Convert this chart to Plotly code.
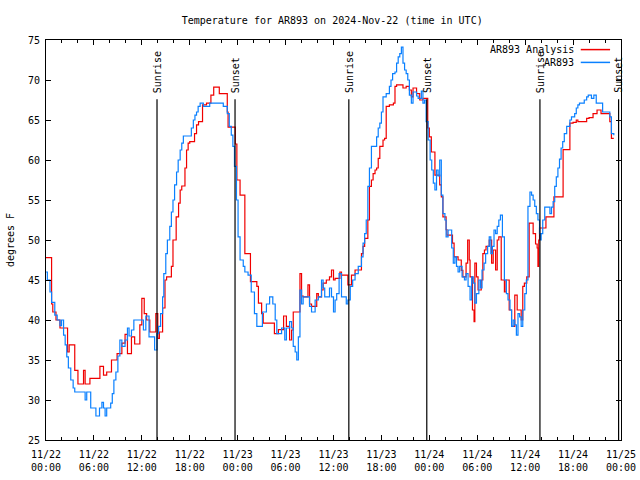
import pandas as pd
import plotly.graph_objects as go

# ---------------- data (hours after 2024-11-22 00:00 UTC, degrees F) ----------------
analysis_hours = [0.0, 0.7, 0.85, 1.25, 1.75, 2.7, 2.9, 3.6, 4.0, 4.7, 4.9, 5.5, 6.75, 7.2, 7.6, 8.2, 8.9,
                  9.5, 9.9, 10.2, 10.7, 11.1, 11.75, 12.0, 12.3, 12.6, 13.0, 13.75, 14.0, 14.2, 14.6, 14.9,
                  15.1, 15.7, 15.9, 16.3, 16.6, 16.8, 17.0, 17.4, 17.6, 17.8, 18.0, 18.6, 18.85, 19.1, 19.6,
                  20.1, 20.65, 21.0, 21.7, 22.7, 22.8, 23.7, 23.9, 24.3, 24.9, 25.6, 26.4, 26.6, 27.0, 27.2,
                  28.6, 29.1, 29.75, 30.1, 30.5, 30.75, 30.96, 31.8, 32.0, 32.2, 32.8, 33.0, 33.25, 33.9,
                  34.1, 34.5, 34.7, 35.1, 35.5, 35.75, 36.0, 36.2, 36.8, 37.0, 37.8, 38.25, 38.7, 39.5, 39.7,
                  39.9, 40.3, 40.5, 40.75, 40.96, 41.2, 41.4, 41.6, 41.8, 42.2, 42.4, 42.6, 43.0, 43.5, 43.7,
                  43.9, 44.7, 45.1, 45.5, 45.75, 45.96, 46.4, 46.8, 47.2, 47.8, 48.0, 48.25, 48.7, 49.3, 49.5,
                  49.7, 50.1, 50.2, 50.9, 51.1, 51.6, 52.0, 52.2, 52.6, 52.8, 53.0, 53.1, 53.4, 53.6, 53.7,
                  53.9, 54.1, 54.5, 54.7, 54.9, 55.1, 55.5, 55.8, 56.0, 56.3, 56.5, 56.7, 57.0, 57.4, 57.6,
                  58.0, 58.3, 58.7, 59.0, 59.5, 59.7, 59.9, 60.2, 60.5, 61.0, 61.3, 61.5, 61.6, 61.7, 61.8,
                  62.6, 63.6, 64.75, 65.6, 66.0, 66.4, 66.6, 67.7, 68.0, 68.5, 69.0, 69.5, 70.6, 70.8, 71.1]
analysis_temps = [47.8, 42, 41, 40, 39, 36, 36.9, 33.7, 32, 33.7, 32, 32.7, 34.2, 33.1, 33.5, 35, 35.8,
                  37.1, 38.2, 35.8, 37.9, 37, 39.4, 42.7, 40.8, 40, 38.5, 40.8, 37.7, 38.5, 41.5, 45,
                  45.4, 46.7, 50, 52.9, 54.6, 56.25, 56.75, 59, 61.25, 62.1, 62.3, 63.3, 64.4, 64.8, 66.9,
                  67.1, 68.1, 69.1, 68.3, 66, 64.1, 62, 57.5, 55.6, 48.3, 44.8, 44.2, 42.1, 40.8, 39.6,
                  38.3, 38.8, 40.5, 39.2, 37.5, 38.75, 41, 45.8, 43, 42.9, 44.4, 42, 41.7, 43.3,
                  42.9, 43.75, 44.6, 45, 45.4, 46.25, 45, 45.2, 46, 45.6, 44.4, 45.6, 46.25, 48.3, 49.2,
                  50.2, 52.5, 56.7, 57.5, 58.3, 58.75, 59, 60.2, 61.7, 62.5, 62.7, 66.7, 66.9, 67.1, 69.2,
                  69.4, 69, 69.2, 68.75, 67.9, 69, 68.3, 67.5, 67.7, 64, 62.9, 61, 58.1, 56.9, 55.4,
                  52.9, 51.3, 50.6, 49.6, 47.9, 47.5, 46.2, 45.4, 47.1, 50, 47.5, 45.4, 41.25, 39.8, 47.1,
                  45.4, 43.75, 45, 48.3, 48.75, 49.2, 50, 47.1, 48.75, 46.25, 50, 50.4, 45, 43.5, 45,
                  41.25, 39.2, 43.1, 41.25, 40, 44.2, 44.6, 45.4, 52.1, 50.8, 49.5, 49, 46.7, 50, 51.5,
                  52.9, 55.4, 61.3, 64.6, 64.7, 65, 64.8, 65.2, 65.3, 65.8, 66.25, 65.8, 64.8, 62.7, 62.7]

obs_hours = [0.0, 0.17, 0.5, 0.7, 1.1, 1.4, 1.75, 1.95, 2.2, 2.4, 2.6, 2.8, 3.1, 3.4, 3.6, 4.9, 5.1, 5.6,
             6.25, 6.7, 7.0, 7.2, 7.4, 7.6, 8.1, 8.3, 8.5, 8.75, 9.0, 9.25, 9.5, 9.9, 10.2, 10.4, 10.7,
             11.0, 12.2, 12.5, 12.9, 13.6, 13.9, 14.1, 14.35, 14.6, 14.75, 15.0, 15.2, 15.5, 15.7, 15.9,
             16.1, 16.35, 16.55, 16.8, 17.0, 17.2, 18.2, 18.45, 18.65, 18.85, 19.05, 19.3, 19.7, 20.5,
             22.2, 22.7, 22.95, 23.2, 23.4, 23.6, 23.85, 24.05, 24.3, 24.7, 24.9, 25.3, 25.7, 26.1, 26.4,
             27.1, 27.6, 28.0, 28.4, 28.7, 28.9, 29.5, 29.9, 30.1, 30.5, 30.75, 30.96, 31.2, 31.4, 31.6,
             31.8, 32.0, 32.2, 33.0, 33.25, 33.7, 34.1, 34.5, 34.7, 34.9, 35.5, 35.75, 36.0, 36.2, 36.4,
             36.7, 37.0, 37.6, 37.8, 38.1, 38.4, 38.7, 39.1, 39.5, 39.7, 39.9, 40.1, 40.3, 40.5, 40.75,
             41.4, 41.6, 41.8, 42.0, 42.2, 42.6, 43.0, 43.2, 43.4, 43.7, 43.9, 44.1, 44.3, 44.5, 44.7,
             44.9, 45.1, 45.3, 45.5, 45.75, 45.96, 46.4, 46.6, 47.0, 47.2, 47.4, 47.6, 47.85, 48.1, 48.3,
             48.5, 48.7, 48.9, 49.1, 49.3, 49.5, 49.7, 49.95, 50.1, 50.35, 50.8, 51.0, 51.2, 51.4, 51.6,
             51.8, 52.1, 52.4, 52.6, 52.85, 53.1, 53.3, 53.5, 53.7, 53.9, 54.2, 54.4, 54.6, 54.85, 55.05,
             55.3, 55.5, 55.7, 55.9, 56.1, 56.3, 56.5, 56.7, 56.9, 57.15, 57.4, 57.65, 57.85, 58.1, 58.3,
             58.5, 58.7, 58.9, 59.1, 59.3, 59.5, 59.7, 59.95, 60.15, 60.35, 60.6, 60.8, 61.0, 61.2, 61.4,
             61.6, 61.8, 61.9, 62.0, 62.2, 62.45, 63.1, 63.3, 63.5, 63.7, 63.9, 64.1, 64.3, 64.5, 64.7,
             64.9, 65.2, 65.6, 65.8, 66.2, 66.4, 66.6, 66.8, 67.4, 67.7, 67.9, 68.3, 68.6, 68.9, 69.7,
             70.6, 70.8, 71.1]
obs_temps = [46, 45, 43.5, 42.2, 40.6, 40, 39.3, 40, 38.1, 36.9, 35.4, 34, 32.5, 31.5, 31, 30, 31, 29,
             28, 29, 29.7, 29, 28, 29, 29.6, 30.8, 32.5, 33.5, 35.5, 37.5, 36.7, 37.5, 39, 38, 38.75,
             40, 38.75, 40.5, 37.9, 36.25, 38.3, 39.2, 40.8, 42.9, 45.8, 48.3, 50, 51.7, 53.5, 55,
             56.9, 58.5, 60, 61.25, 62.1, 63, 64, 65, 65.6, 66, 66.7, 67.1, 66.7, 67.1,
             66.7, 65.8, 64.2, 63.1, 61.7, 59.2, 55, 50.4, 47.5, 46.7, 46, 45.6, 43.5, 40.8, 39.2,
             41, 42, 42.9, 42, 40, 38.3, 39, 37.5, 39, 39.8, 39, 36.7, 36, 35, 37.9,
             43.75, 42, 42.9, 41.7, 41, 42.5, 42.9, 45, 44, 42.9, 44, 42.9, 41, 42.5, 43.3,
             45.8, 42.9, 42, 42.5, 44.2, 45, 45.8, 46.7, 47.9, 49.6, 50.8, 52.5, 56.7, 59, 61.7,
             62.9, 64, 64.6, 66, 67.9, 68.3, 69.2, 70, 70.8, 71, 72.1, 72.9, 73.3, 74.1, 72.1,
             71.25, 70.8, 70, 68.1, 67.1, 68.5, 68, 67.7, 68.6, 67.1, 67.5, 64.8, 62.5, 60, 58.75,
             57.1, 56.25, 58.75, 58, 60, 55.6, 53.3, 52.5, 50.4, 51.25, 49, 47.1, 47.9, 46.7, 46,
             46.7, 45.4, 45, 45.8, 44.2, 42.5, 45.4, 44.6, 42.1, 43.3, 45, 44, 46.25, 47.1, 48.3,
             49.2, 50.4, 48.3, 49.2, 51.25, 50.8, 51.7, 52.5, 53.1, 50.4, 45, 43.3, 42.5, 41.25, 39.2,
             40, 39.4, 38.1, 40.8, 40.4, 39.2, 41.25, 43.3, 45, 54.2, 56, 55.6, 55, 54.2, 53.3,
             52.5, 50.8, 50, 50.8, 52.5, 54.1, 53.3, 54.1, 54.8, 56.7, 57.9, 59, 60.1, 61.5, 62.3,
             63.3, 64.2, 65, 65.4, 65.8, 66.5, 66.9, 67.1, 67.5, 67.9, 68.1, 67.7, 68.1, 67.1, 66,
             65.4, 63.3, 63.1]

event_hours = [13.9, 23.67, 37.92, 47.68, 61.85, 71.7]
event_names = ["Sunrise", "Sunset", "Sunrise", "Sunset", "Sunrise", "Sunset"]

tick_hours = [0, 6, 12, 18, 24, 30, 36, 42, 48, 54, 60, 66, 72]
tick_labels = ["11/22<br>00:00", "11/22<br>06:00", "11/22<br>12:00", "11/22<br>18:00",
               "11/23<br>00:00", "11/23<br>06:00", "11/23<br>12:00", "11/23<br>18:00",
               "11/24<br>00:00", "11/24<br>06:00", "11/24<br>12:00", "11/24<br>18:00",
               "11/25<br>00:00"]

series_names = ["AR893 Analysis", "AR893"]
series_colors = ["rgb(240,0,0)", "rgb(10,128,255)"]

# ---------------- figure ----------------
base = pd.Timestamp("2024-11-22 00:00")
def to_time(hours):
    return [base + pd.Timedelta(hours=h) for h in hours]

FONT = "DejaVu Sans Mono"
fig = go.Figure()
fig.add_trace(go.Scatter(x=to_time(analysis_hours), y=analysis_temps, mode="lines",
                         line=dict(color=series_colors[0], width=1.2, shape="hv"),
                         name=series_names[0], showlegend=False))
fig.add_trace(go.Scatter(x=to_time(obs_hours), y=obs_temps, mode="lines",
                         line=dict(color=series_colors[1], width=1.2, shape="hv"),
                         name=series_names[1], showlegend=False))

line_top = 67.6
for h, name in zip(event_hours, event_names):
    t = base + pd.Timedelta(hours=h)
    fig.add_shape(type="line", xref="x", yref="y", x0=t, x1=t, y0=25, y1=line_top,
                  line=dict(color="black", width=1.2))
    fig.add_annotation(x=t, y=line_top + 0.5, xref="x", yref="y", text=name, textangle=-90,
                       showarrow=False, xanchor="center", yanchor="bottom",
                       font=dict(family=FONT, size=10, color="black"))

# legend (gnuplot style: text then sample)
legend_y = [0.976, 0.944]
for i, (nm, col) in enumerate(zip(series_names, series_colors)):
    fig.add_annotation(x=0.921, y=legend_y[i], xref="paper", yref="paper", text=nm,
                       showarrow=False, xanchor="right", yanchor="middle",
                       font=dict(family=FONT, size=10, color="black"))
    fig.add_shape(type="line", xref="paper", yref="paper", x0=0.930, x1=0.981,
                  y0=legend_y[i], y1=legend_y[i], line=dict(color=col, width=1.5))

fig.update_layout(
    width=640, height=480, autosize=False,
    margin=dict(l=46, r=19, t=40, b=40, pad=0),
    paper_bgcolor="white", plot_bgcolor="white",
    font=dict(family=FONT, size=10, color="black"),
    title=dict(text="Temperature for AR893 on 2024-Nov-22 (time in UTC)", x=0.519, xanchor="center",
               y=0.958, yanchor="middle", font=dict(family=FONT, size=10, color="black")),
    showlegend=False,
)
fig.update_xaxes(
    range=[base, base + pd.Timedelta(hours=72)],
    tickvals=to_time(tick_hours), ticktext=tick_labels,
    ticks="inside", ticklen=5, tickcolor="black", tickwidth=1,
    minor=dict(ticks="inside", ticklen=3, tickcolor="black",
               tickvals=to_time([h for h in range(0, 73, 2) if h % 6 != 0]), showgrid=False),
    showline=True, linecolor="black", linewidth=1, mirror="ticks",
    showgrid=False, zeroline=False, tickangle=0, automargin=False, ticklabelstandoff=5,
)
fig.update_yaxes(
    range=[25, 75], tickvals=[25, 30, 35, 40, 45, 50, 55, 60, 65, 70, 75],
    ticks="inside", ticklen=5, tickcolor="black", tickwidth=1,
    showline=True, linecolor="black", linewidth=1, mirror="ticks",
    showgrid=False, zeroline=False, automargin=False, ticklabelstandoff=3,
    title=dict(text="degrees F", standoff=11, font=dict(family=FONT, size=10)),
)

fig.write_html(
    "out.html",
    config={"responsive": False, "displayModeBar": False, "staticPlot": True},
    post_script=("document.body.style.margin='0';document.body.style.overflow='hidden';"
                 "Plotly.relayout(document.getElementById('{plot_id}'),{width:640,height:480});"),
)
